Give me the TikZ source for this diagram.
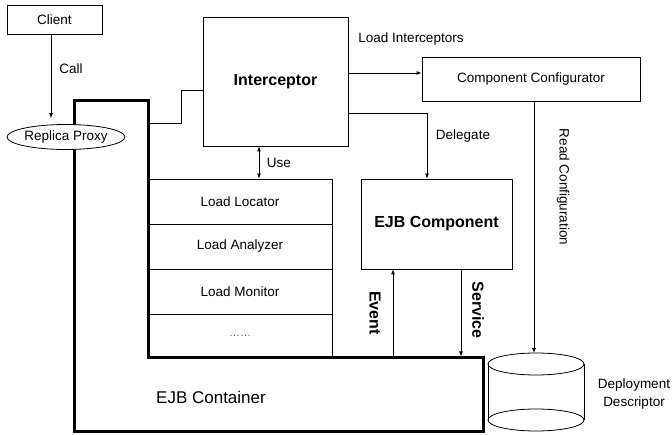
\documentclass[tikz,border=0pt]{standalone}
\usepackage{fontspec}
\setmainfont{Liberation Sans}
\usetikzlibrary{arrows.meta,shapes.geometric}
\begin{document}
\begin{tikzpicture}[x=1pt,y=-1pt,
  box/.style={draw,line width=0.8pt,inner sep=0pt},
  lbl/.style={font=\fontsize{13.5}{16}\selectfont},
  blbl/.style={font=\fontsize{16}{19}\selectfont\bfseries},
  arr/.style={line width=0.8pt,-{Latex[length=5pt,width=4pt]}},
  darr/.style={line width=0.8pt,{Latex[length=5pt,width=4pt]}-{Latex[length=5pt,width=4pt]}},
  ln/.style={line width=0.8pt},
  thick line/.style={line width=3pt,line join=miter}]
\useasboundingbox (0,0) rectangle (672,435);

% container
\draw[thick line] (74,101) -- (148,101) -- (148,358) -- (483,358) -- (483,431) -- (74,431) -- cycle;
\coordinate (k1) at (148,123);
\coordinate (cb) at (148,358);
\node[lbl,font=\fontsize{17}{20}\selectfont] (contlbl) at (211,397) {EJB Container};

% nodes
\node[box,lbl,minimum width=95pt,minimum height=29pt] (client) at (54.5,19.5) {Client};
\node[box,lbl,ellipse,minimum width=118pt,minimum height=25pt,fill=white] (proxy) at (66,137) {Replica Proxy};
\node[box,blbl,minimum width=145pt,minimum height=129pt] (icpt) at (275.5,81.5) {Interceptor};
\node[box,lbl,minimum width=218pt,minimum height=44pt] (conf) at (531,79) {Component Configurator};
\node[box,blbl,minimum width=151pt,minimum height=90pt] (ejb) at (436.5,224) {EJB Component};

\node[box,lbl,minimum width=184pt,minimum height=45pt] (ll) at (240,201.5) {Load Locator};
\node[box,lbl,minimum width=184pt,minimum height=45pt] (la) at (240,246.5) {Load Analyzer};
\node[box,lbl,minimum width=184pt,minimum height=45pt] (lm) at (240,291.5) {Load Monitor};
\node[box,minimum width=184pt,minimum height=44pt,font=\fontsize{11}{12}\selectfont,text=black!60] (ld) at (240,336) {……};

% cylinder (deployment descriptor)
\draw[ln] (536,364) ellipse [x radius=48pt,y radius=11pt];
\draw[ln] (536,420) ellipse [x radius=48pt,y radius=11pt];
\draw[ln] (488,364) -- (488,420);
\draw[ln] (584,364) -- (584,420);
\coordinate (db) at (533,353);
\node[lbl,align=center,font=\fontsize{13.5}{18}\selectfont] (ddlbl) at (634,394) {Deployment\\Descriptor};

% connectors
\draw[arr,shorten >=6pt] ([xshift=-3.5pt]client.south) coordinate (c1) -- (c1 |- proxy.north);
\node[lbl] (calllbl) at (71,69) {Call};

\draw[ln] (k1) -- ++(33,0) |- ([yshift=-8.5pt]icpt.west);

\draw[darr] ([xshift=-16.5pt]icpt.south) coordinate (u1) -- (u1 |- ll.north);
\node[lbl] (uselbl) at (279,163) {Use};

\draw[arr] ([yshift=8.5pt]icpt.east) coordinate (l1) -- (l1 -| conf.west);
\node[lbl] (lilbl) at (411,39) {Load Interceptors};

\draw[arr] ([yshift=-31.5pt]icpt.east) -| ([xshift=-9.5pt]ejb.north);
\node[lbl] (dellbl) at (463,136) {Delegate};

\draw[arr] ([xshift=3pt]conf.south) coordinate (r1) -- (r1 |- db);
\node[lbl,rotate=-90] (rclbl) at (563,187) {Read Configuration};

\path ([xshift=-43.5pt]ejb.south) coordinate (ev);
\draw[arr] (ev |- cb) -- (ev);
\node[blbl,rotate=-90] (evlbl) at (375,313) {Event};

\path ([xshift=24.5pt]ejb.south) coordinate (sv);
\draw[arr,shorten >=1.5pt] (sv) -- (sv |- cb);
\node[blbl,rotate=-90] (svlbl) at (478,310) {Service};
\end{tikzpicture}
\end{document}
